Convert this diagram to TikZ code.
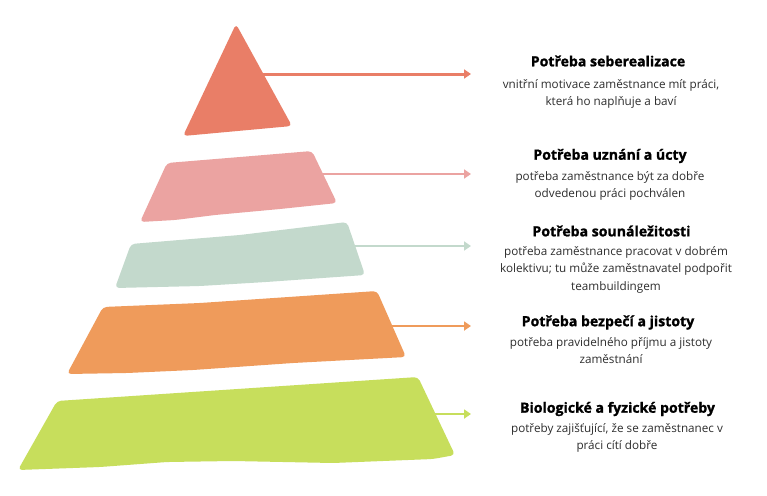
\documentclass[tikz,border=0pt]{standalone}
\usepackage{fontspec}
\setmainfont{Open Sans}[BoldFeatures={FakeBold=1.2}]
\usetikzlibrary{arrows.meta}
\definecolor{cSelf}{HTML}{E97E67}
\definecolor{cEst}{HTML}{EBA3A1}
\definecolor{cLove}{HTML}{C3D9CC}
\definecolor{cSafe}{HTML}{EF9B5B}
\definecolor{cBio}{HTML}{C7DE5C}
\definecolor{txt}{HTML}{2E2E2E}
\begin{document}
\begin{tikzpicture}[x=1pt,y=-1pt,
  layer/.style={rounded corners=4pt},
  conn/.style={line width=2.5pt,-{Triangle[length=7pt,width=9pt]}},
  head/.style={font=\fontsize{14.1}{16}\selectfont\bfseries, inner sep=0pt, text=black},
  desc/.style={font=\fontsize{11.7}{17.3}\selectfont, align=center, inner sep=0pt, anchor=north, text=txt,
    execute at begin node={\rule{0pt}{11pt}}}]
\useasboundingbox[fill=white] (0,0) rectangle (767,495);

% connectors (drawn first, start hidden under the layers)
\coordinate (a1s) at (255,74);  \coordinate (a1e) at (471,74);
\coordinate (a2s) at (318,174); \coordinate (a2e) at (471,174);
\coordinate (a3s) at (350,246); \coordinate (a3e) at (471,246);
\coordinate (a4s) at (388,326); \coordinate (a4e) at (471,326);
\coordinate (a5s) at (430,414); \coordinate (a5e) at (471,414);
\draw[conn, cSelf, line width=3pt] (a1s) -- (a1e);
\draw[conn, cEst] (a2s) -- (a2e);
\draw[conn, cLove] (a3s) -- (a3e);
\draw[conn, cSafe] (a4s) -- (a4e);
\draw[conn, cBio] (a5s) -- (a5e);

% pyramid layers
\fill[cSelf, layer] (236,24) -- (292,126) -- (183,136) -- cycle;
\fill[cEst, layer] (167,163) -- (240,157) -- (312,151) -- (337,203) -- (280,209) -- (215,215) -- (175,220) -- (140,222) -- cycle;
\fill[cLove, layer] (131,244) -- (240,235) -- (347,222) -- (365,275) -- (266,282) -- (200,286) -- (115,288) -- cycle;
\fill[cSafe, layer] (103,307) -- (200,303) -- (377,291) -- (406,357) -- (293,363) -- (193,370) -- (127,373) -- (67,374) -- cycle;
\fill[cBio, layer] (57,401) -- (418,377) -- (455,455) -- (433,459) -- (333,463) -- (233,461) -- (167,462) -- (100,467) -- (18,470) -- cycle;

% texts
\node[head] (h1) at (608,61) {Potřeba seberealizace};
\node[desc] (d1) at (611,79.5) {vnitřní motivace zaměstnance mít práci,\\ která ho naplňuje a baví};
\node[head] (h2) at (610,156) {Potřeba uznání a úcty};
\node[desc] (d2) at (610,171.5) {potřeba zaměstnance být za dobře\\ odvedenou práci pochválen};
\node[head] (h3) at (611.5,231) {Potřeba sounáležitosti};
\node[desc] (d3) at (616,246.5) {potřeba zaměstnance pracovat v dobrém\\ kolektivu; tu může zaměstnavatel podpořit\\ teambuildingem};
\node[head] (h4) at (608,322.5) {Potřeba bezpečí a jistoty};
\node[desc] (d4) at (611,337.5) {potřeba pravidelného příjmu a jistoty\\ zaměstnání};
\node[head] (h5) at (617.5,409) {Biologické a fyzické potřeby};
\node[desc] (d5) at (617,423.5) {potřeby zajišťující, že se zaměstnanec v\\ práci cítí dobře};
\end{tikzpicture}
\end{document}
